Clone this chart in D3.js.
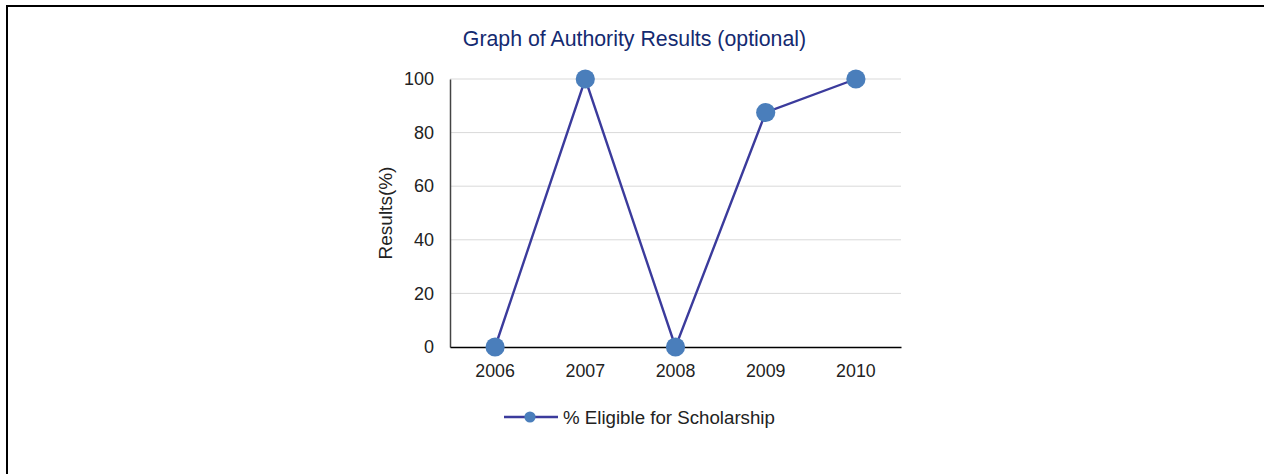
<!DOCTYPE html>
<html>
<head>
<meta charset="utf-8">
<script src="https://cdn.jsdelivr.net/npm/d3@7"></script>
<style>
  body { margin: 0; background: #fff; }
  svg { display: block; font-family: "Liberation Sans", Arial, sans-serif; }
</style>
</head>
<body>
<div id="plot"></div>
<script>
// data
var years = ["2006", "2007", "2008", "2009", "2010"];
var eligible = [0, 100, 0, 87.5, 100];
var yTicks = [0, 20, 40, 60, 80, 100];
var seriesName = "% Eligible for Scholarship";

var W = 1264, H = 474;
var margin = {top: 79, right: 363, bottom: 127, left: 450};
var width = W - margin.left - margin.right,
    height = H - margin.top - margin.bottom;

var root = d3.select("#plot")
    .append("svg")
    .attr("width", W)
    .attr("height", H);

// frame (top and left edges only)
root.append("line")
    .attr("x1", 6).attr("x2", W).attr("y1", 6).attr("y2", 6)
    .attr("stroke", "#000").attr("stroke-width", 2);
root.append("line")
    .attr("x1", 7).attr("x2", 7).attr("y1", 5).attr("y2", H)
    .attr("stroke", "#000").attr("stroke-width", 2);

var svg = root.append("g")
    .attr("transform", `translate(${margin.left}, ${margin.top})`);

var x = d3.scaleBand()
    .domain(years)
    .range([0, width]);

var y = d3.scaleLinear()
    .domain([0, 100])
    .range([height, 0]);

// gridlines
svg.append("g")
    .selectAll("line")
    .data(yTicks.filter(d => d > 0))
    .enter()
    .append("line")
    .attr("x1", 0)
    .attr("x2", width)
    .attr("y1", d => y(d))
    .attr("y2", d => y(d))
    .attr("stroke", "#d9d9d9")
    .attr("stroke-width", 1);

// y axis
var yAxis = svg.append("g")
    .call(d3.axisLeft(y).tickValues(yTicks).tickSize(0).tickPadding(16));
yAxis.select(".domain").attr("stroke", "#444").attr("stroke-width", 1.5);
yAxis.selectAll("text")
    .style("font-size", "18px")
    .attr("fill", "#222");

// x axis
var xAxis = svg.append("g")
    .attr("transform", `translate(0, ${height})`)
    .call(d3.axisBottom(x).tickSize(0).tickPadding(17));
xAxis.select(".domain").attr("stroke", "#000").attr("stroke-width", 1.6);
xAxis.selectAll("text")
    .style("font-size", "17.8px")
    .attr("fill", "#222");

// y label
svg.append("text")
    .attr("transform", `translate(-58, ${height / 2}) rotate(-90)`)
    .style("text-anchor", "middle")
    .style("font-size", "19px")
    .attr("fill", "#222")
    .text("Results(%)");

// title
svg.append("text")
    .attr("x", width / 2 - 41)
    .attr("y", -33)
    .style("text-anchor", "middle")
    .style("font-size", "21.3px")
    .attr("fill", "#142a70")
    .text("Graph of Authority Results (optional)");

var dat = years.map((yr, i) => ({year: yr, value: eligible[i]}));
var cx = d => x(d.year) + x.bandwidth() / 2;

// line
svg.append("path")
    .datum(dat)
    .attr("fill", "none")
    .attr("stroke", "#3b3b9c")
    .attr("stroke-width", 2.4)
    .attr("d", d3.line().x(cx).y(d => y(d.value)));

// points
svg.selectAll("circle.pt")
    .data(dat)
    .enter()
    .append("circle")
    .attr("class", "pt")
    .attr("cx", cx)
    .attr("cy", d => y(d.value))
    .attr("r", 9.6)
    .attr("fill", "#4a7ebb");

// legend
var legend = svg.append("g")
    .attr("transform", `translate(${54}, ${height + 70})`);
legend.append("line")
    .attr("x1", 0).attr("x2", 54)
    .attr("stroke", "#3b3b9c")
    .attr("stroke-width", 2.4);
legend.append("circle")
    .attr("cx", 26).attr("r", 5.6)
    .attr("fill", "#4a7ebb");
legend.append("text")
    .attr("x", 59)
    .attr("dy", "0.35em")
    .style("font-size", "18.7px")
    .attr("fill", "#222")
    .text(seriesName);
</script>
</body>
</html>
